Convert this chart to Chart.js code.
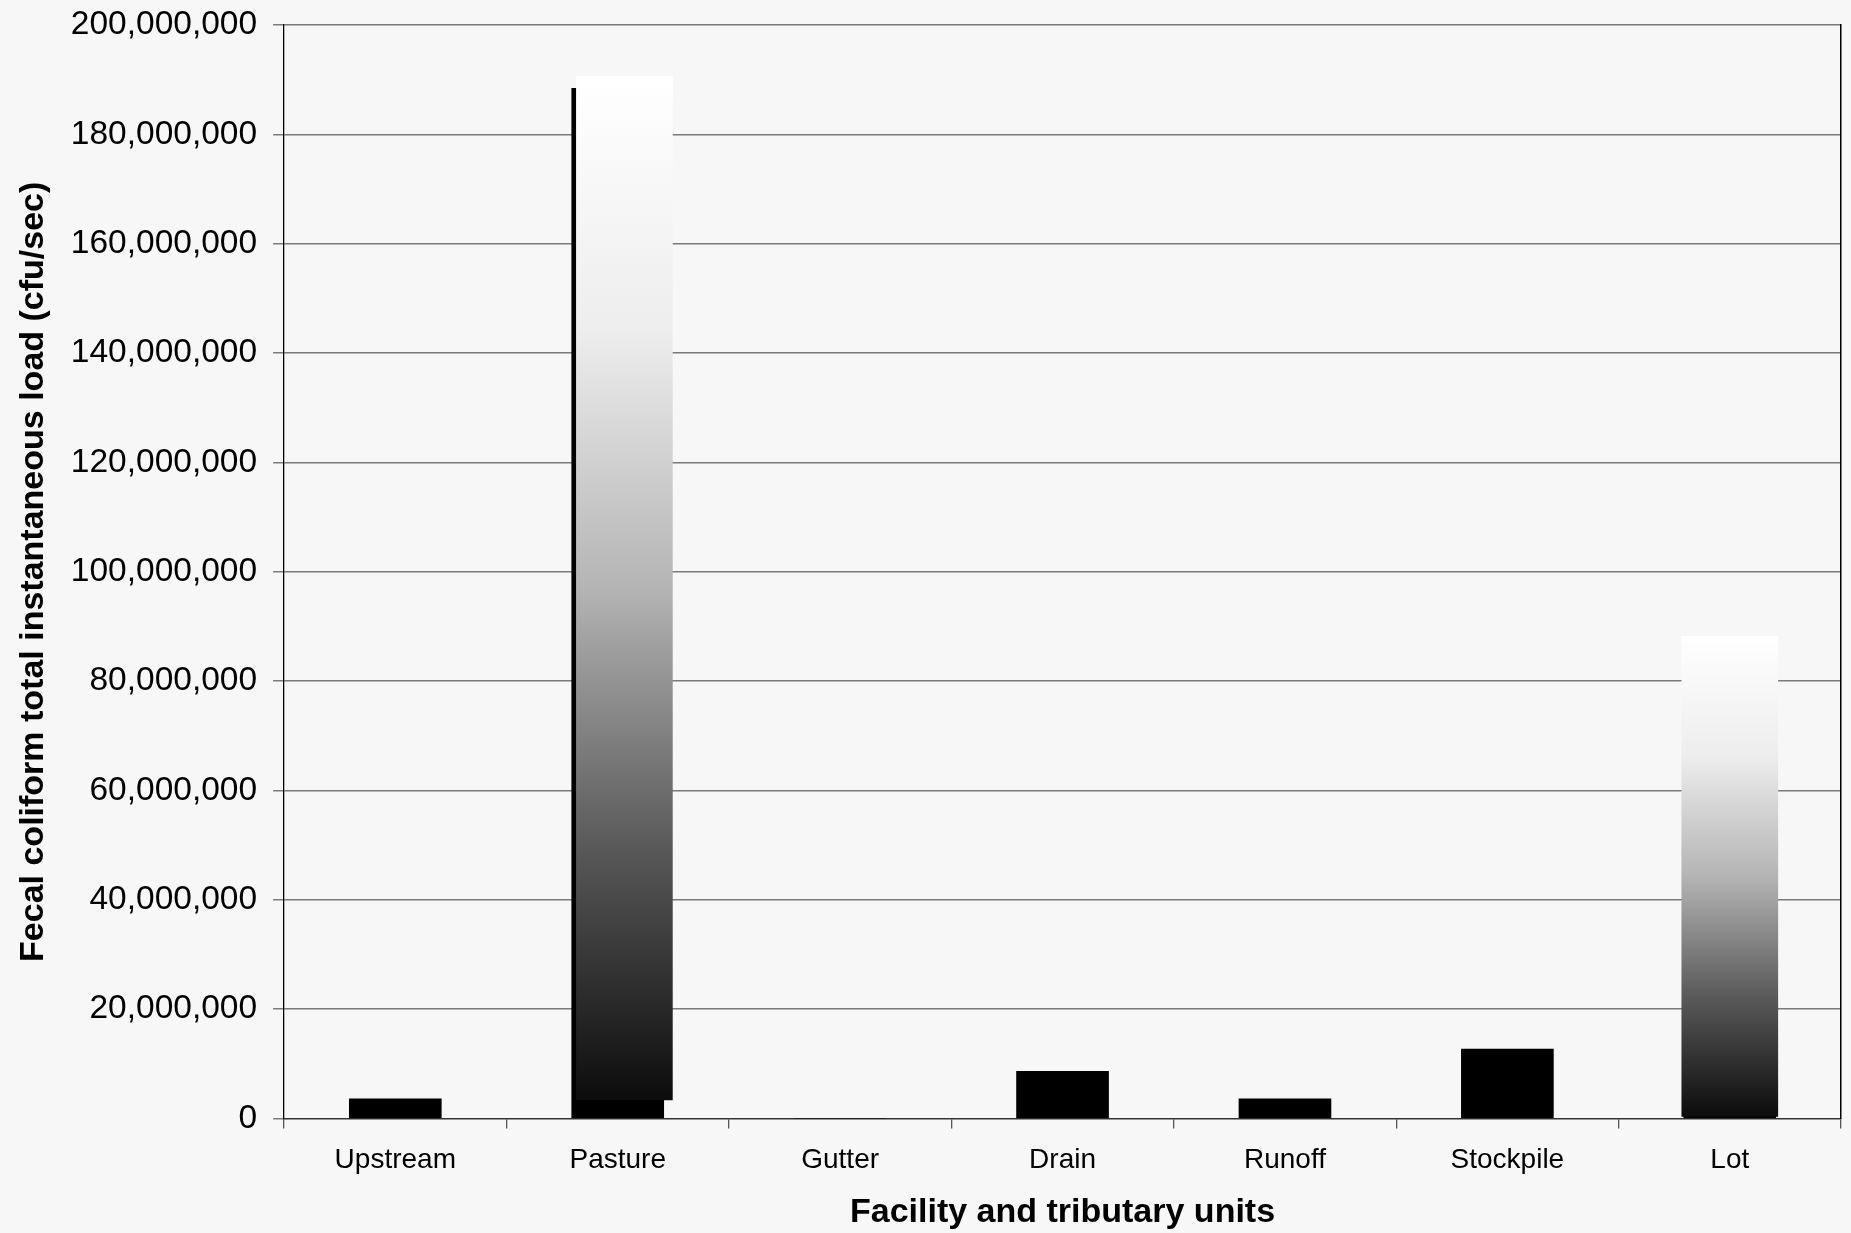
<!DOCTYPE html>
<html>
<head>
<meta charset="utf-8">
<script src="https://cdn.jsdelivr.net/npm/chart.js@4/dist/chart.umd.min.js"></script>
<style>
  html, body { margin: 0; padding: 0; background: #f7f7f7; }
  #wrap { width: 1851px; height: 1233px; }
</style>
</head>
<body>
<div id="wrap"><canvas id="c" width="1851" height="1233"></canvas></div>
<script>
// ---- data ----
const categories = ["Upstream", "Pasture", "Gutter", "Drain", "Runoff", "Stockpile", "Lot"];
const solidLoads = [3600000, 188400000, 0, 8650000, 3600000, 12700000, 86000000];
const gradientPositions = [1.03, 6.0];
const gradientLows = [3400000, 420000];
const gradientHighs = [190600000, 88200000];
const yTickMin = 0;
const yTickMax = 200000000;
const yTickStep = 20000000;
const yTitle = "Fecal coliform total instantaneous load (cfu/sec)";
const xTitle = "Facility and tributary units";

const gradientData = gradientPositions.map((p, i) => ({ x: p, y: [gradientLows[i], gradientHighs[i]] }));

const FONT = "'Liberation Sans', Arial, Helvetica, sans-serif";

function gradFill(ctx) {
  const chart = ctx.chart;
  if (!chart.chartArea || ctx.type !== 'data' || !ctx.raw) return '#888888';
  const ys = chart.scales.y;
  const top = ys.getPixelForValue(ctx.raw.y[1]);
  const bot = ys.getPixelForValue(ctx.raw.y[0]);
  const g = chart.ctx.createLinearGradient(0, bot, 0, top);
  g.addColorStop(0, '#0c0c0c');
  g.addColorStop(0.25, '#5a5a5a');
  g.addColorStop(0.5, '#b4b4b4');
  g.addColorStop(0.75, '#ededed');
  g.addColorStop(1, '#ffffff');
  return g;
}

new Chart(document.getElementById('c'), {
  type: 'bar',
  data: {
    labels: categories,
    datasets: [
      {
        label: 'gradient',
        data: gradientData,
        xAxisID: 'x2',
        yAxisID: 'y',
        backgroundColor: gradFill,
        borderWidth: 0,
        barThickness: 96,
        grouped: false,
        order: 0
      },
      {
        label: 'load',
        data: solidLoads,
        xAxisID: 'x',
        yAxisID: 'y',
        backgroundColor: '#000000',
        borderColor: '#222222',
        borderWidth: 0,
        barThickness: 92,
        grouped: false,
        order: 1
      }
    ]
  },
  options: {
    responsive: false,
    devicePixelRatio: 1,
    animation: false,
    layout: { padding: { top: 25, right: 2, bottom: 0, left: 0 } },
    plugins: { legend: { display: false }, tooltip: { enabled: false } },
    scales: {
      x: {
        type: 'category',
        offset: true,
        grid: { offset: true, drawOnChartArea: false, tickLength: 10, color: '#555555', lineWidth: 1.3 },
        border: { display: true, color: '#333333', width: 1.3 },
        ticks: { color: '#000000', font: { family: FONT, size: 28 }, padding: 15, maxRotation: 0 },
        title: { display: true, text: xTitle, color: '#000000', font: { family: FONT, size: 34, weight: 'bold' }, padding: { top: 0, bottom: 0 } }
      },
      x2: {
        type: 'linear',
        display: false,
        min: -0.5,
        max: 6.5,
        offset: false
      },
      y: {
        min: yTickMin,
        max: yTickMax,
        position: 'left',
        afterFit: s => { s.paddingTop = 0; s.paddingBottom = 0; },
        grid: { color: '#7a7a7a', lineWidth: 1.5, tickLength: 11 },
        border: { display: true, color: '#000000', width: 1.3 },
        ticks: {
          stepSize: yTickStep,
          color: '#000000',
          padding: 16,
          font: { family: FONT, size: 33.5 },
          callback: v => Number(v).toLocaleString('en-US')
        },
        title: { display: true, text: yTitle, color: '#000000', font: { family: FONT, size: 34, weight: 'bold' }, padding: { top: 13, bottom: 1 } }
      },
      yR: {
        position: 'right',
        min: yTickMin,
        max: yTickMax,
        afterFit: s => { s.paddingTop = 0; s.paddingBottom = 0; },
        grid: { display: false },
        border: { display: true, color: '#000000', width: 1.5 },
        ticks: { display: false }
      }
    }
  }
});
</script>
</body>
</html>
